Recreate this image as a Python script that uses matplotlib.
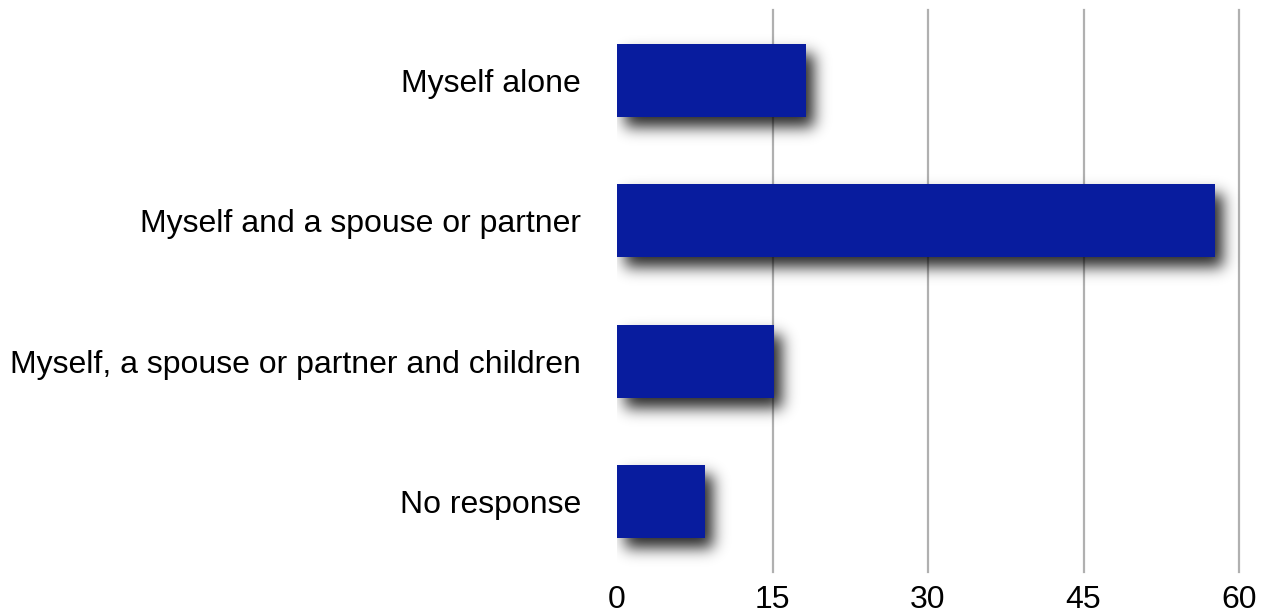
import numpy as np
import matplotlib
matplotlib.use("Agg")
import matplotlib.pyplot as plt

categories = [
    "Myself alone",
    "Myself and a spouse or partner",
    "Myself, a spouse or partner and children",
    "No response",
]
values = [18.2, 57.7, 15.1, 8.5]
x_ticks = [0, 15, 30, 45, 60]

BAR_COLOR = "#081c9e"
GRID_COLOR = "#b0b0b0"
FONT = "Liberation Sans"
FS = 23

W, H, DPI = 1265, 616, 100
fig = plt.figure(figsize=(W / DPI, H / DPI), dpi=DPI)
ax = fig.add_axes([617 / W, 1 - 572 / H, (1239 - 617) / W, (572 - 10) / H])

ypos = np.arange(len(categories))
bar_h = 0.52

ax.set_xlim(0, 60)
ax.set_ylim(len(categories) - 0.5, -0.5)

# soft drop shadow under each bar, rendered as a blurred alpha mask
fig.canvas.draw()
bbox = ax.get_window_extent()
pad_px = 40
nx, ny = int(round(bbox.width)) + pad_px, int(round(bbox.height))
mask = np.zeros((ny, nx))
dx, dy = 8, 10  # shadow offset in pixels (right, down)
to_px = ax.transData
for y, v in zip(ypos, values):
    x0, y0 = to_px.transform((0, y - bar_h / 2))
    x1, y1 = to_px.transform((v, y + bar_h / 2))
    c0 = int(round(x0 - bbox.x0 + dx)); c1 = int(round(x1 - bbox.x0 + dx))
    r_top = int(round(bbox.y1 - y0 + dy)); r_bot = int(round(bbox.y1 - y1 + dy))
    r0, r1 = sorted((r_top, r_bot))
    mask[max(r0, 0):min(r1, ny), max(c0, 0):min(c1, nx)] = 1.0

sigma = 7.5
k = np.arange(-int(4 * sigma), int(4 * sigma) + 1)
g = np.exp(-0.5 * (k / sigma) ** 2)
g /= g.sum()
blur = np.apply_along_axis(lambda r: np.convolve(r, g, mode="same"), 1, mask)
blur = np.apply_along_axis(lambda c: np.convolve(c, g, mode="same"), 0, blur)
shadow = np.zeros((ny, nx, 4))
shadow[..., 3] = np.clip(blur * 0.85, 0, 1)
x_extra = 60 * pad_px / bbox.width
ax.imshow(shadow, extent=(0, 60 + x_extra, len(categories) - 0.5, -0.5),
          aspect="auto", zorder=2, interpolation="bilinear", clip_on=False)

ax.barh(ypos, values, height=bar_h, color=BAR_COLOR, zorder=3)

ax.set_xticks(x_ticks)
ax.set_xticklabels([str(t) for t in x_ticks], fontsize=FS, fontfamily=FONT)
ax.set_yticks(ypos)
ax.set_yticklabels(categories, fontsize=FS, fontfamily=FONT)
ax.tick_params(axis="x", length=0, pad=9)
ax.tick_params(axis="y", length=0, pad=26)

for t in x_ticks[1:]:
    ax.axvline(t, color=GRID_COLOR, lw=1.6, zorder=1, clip_on=False)

for s in ax.spines.values():
    s.set_visible(False)
ax.set_xlim(0, 60)
ax.set_ylim(len(categories) - 0.5, -0.5)

fig.savefig("out.png", dpi=DPI)
